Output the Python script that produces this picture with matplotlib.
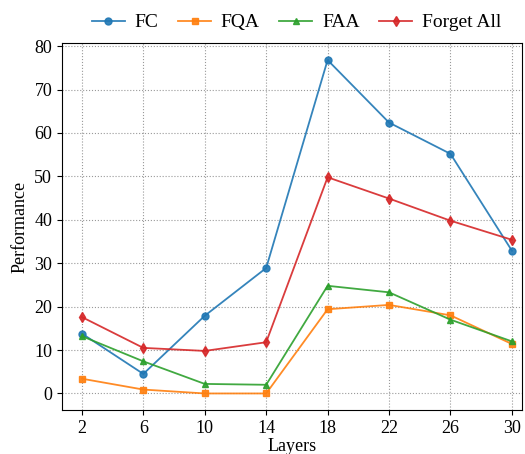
import matplotlib

matplotlib.use("Agg")
import matplotlib.pyplot as plt  # noqa: E402

plt.rcParams["font.family"] = ["Liberation Serif", "DejaVu Serif"]

layers = [2, 6, 10, 14, 18, 22, 26, 30]
fc = [13.8, 4.5, 17.9, 28.9, 76.8, 62.4, 55.2, 32.9]
fqa = [3.4, 0.9, 0.0, 0.0, 19.4, 20.4, 18.0, 11.4]
faa = [13.2, 7.4, 2.2, 2.0, 24.8, 23.3, 17.0, 12.0]
forget_all = [17.6, 10.5, 9.8, 11.8, 49.8, 44.9, 39.8, 35.4]

fig = plt.figure(figsize=(5.25, 4.54), dpi=100)
ax = fig.add_axes([0.118, 0.097, 0.876, 0.808])

ax.plot(layers, fc, marker="o", ms=5, lw=1.3, color="tab:blue", alpha=0.9, label="FC")
ax.plot(layers, fqa, marker="s", ms=5, lw=1.3, color="tab:orange", alpha=0.9, label="FQA")
ax.plot(layers, faa, marker="^", ms=5, lw=1.3, color="tab:green", alpha=0.9, label="FAA")
ax.plot(layers, forget_all, marker="d", ms=5, lw=1.3, color="tab:red", alpha=0.9, label="Forget All")

ax.set_xticks(layers)
ax.set_xlim(0.7, 30.65)
ax.set_ylim(-3.8, 80.7)
ax.grid(True, linestyle=":", color="#999999", lw=0.8)
ax.tick_params(labelsize=13)
ax.set_xlabel("Layers", fontsize=13, labelpad=1)
ax.set_ylabel("Performance", fontsize=13)
ax.legend(loc="lower center", bbox_to_anchor=(0.51, 1.0), ncol=4, frameon=False,
          fontsize=14, handlelength=1.7, handletextpad=0.5, columnspacing=1.0,
          borderaxespad=0.2)

fig.savefig("out.png", dpi=100)
